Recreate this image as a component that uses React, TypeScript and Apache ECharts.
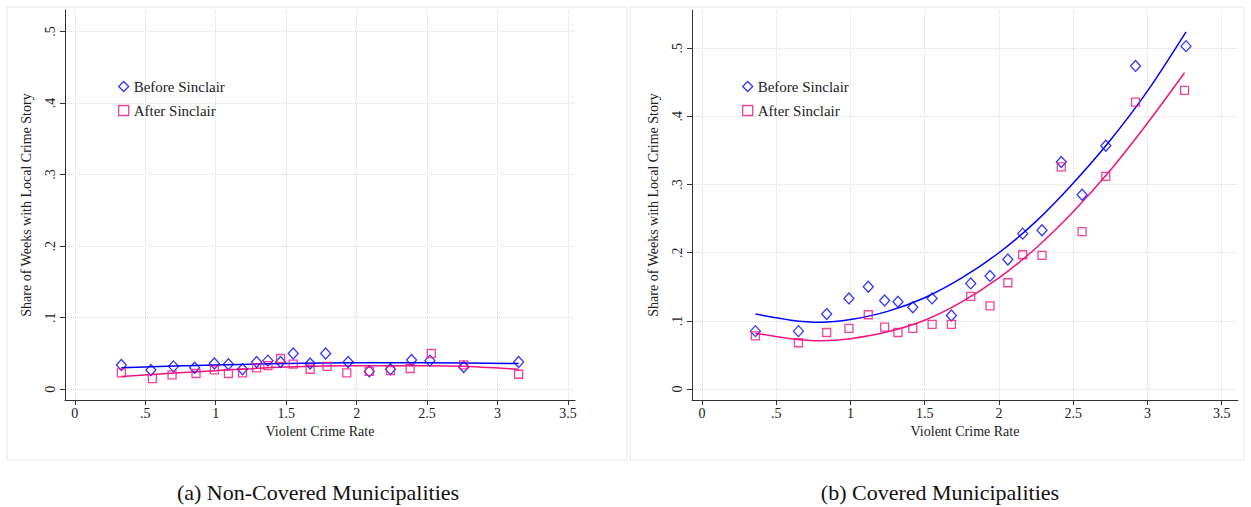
import { useEffect, useRef } from 'react'
import * as echarts from 'echarts'

// Panel (a): non-covered
const aBeforeX = [0.33, 0.54, 0.7, 0.85, 0.99, 1.09, 1.19, 1.29, 1.37, 1.46, 1.55, 1.67, 1.78, 1.94, 2.09, 2.24, 2.39, 2.52, 2.76, 3.15]
const aBeforeY = [0.034, 0.027, 0.032, 0.03, 0.036, 0.035, 0.028, 0.038, 0.04, 0.038, 0.05, 0.036, 0.05, 0.038, 0.025, 0.028, 0.041, 0.04, 0.031, 0.038]
const aAfterX = [0.33, 0.55, 0.69, 0.86, 0.99, 1.09, 1.19, 1.29, 1.37, 1.46, 1.55, 1.67, 1.79, 1.93, 2.09, 2.24, 2.38, 2.53, 2.76, 3.15]
const aAfterY = [0.023, 0.015, 0.02, 0.022, 0.027, 0.022, 0.023, 0.03, 0.033, 0.043, 0.035, 0.028, 0.032, 0.023, 0.025, 0.026, 0.029, 0.05, 0.034, 0.021]
const aFitBefore = [[0.33, 0.03], [1.0, 0.034], [1.5, 0.036], [2.0, 0.037], [2.5, 0.037], [3.15, 0.036]]
const aFitAfter = [[0.33, 0.018], [1.0, 0.026], [1.5, 0.031], [2.0, 0.033], [2.5, 0.033], [2.75, 0.032], [3.15, 0.028]]

// Panel (b): covered
const bBeforeX = [0.36, 0.65, 0.84, 0.99, 1.12, 1.23, 1.32, 1.42, 1.55, 1.68, 1.81, 1.94, 2.06, 2.16, 2.29, 2.42, 2.56, 2.72, 2.92, 3.26]
const bBeforeY = [0.085, 0.085, 0.11, 0.133, 0.15, 0.13, 0.128, 0.12, 0.133, 0.108, 0.155, 0.166, 0.19, 0.228, 0.233, 0.333, 0.285, 0.357, 0.474, 0.503]
const bAfterX = [0.36, 0.65, 0.84, 0.99, 1.12, 1.23, 1.32, 1.42, 1.55, 1.68, 1.81, 1.94, 2.06, 2.16, 2.29, 2.42, 2.56, 2.72, 2.92, 3.25]
const bAfterY = [0.078, 0.068, 0.083, 0.089, 0.109, 0.091, 0.083, 0.089, 0.095, 0.095, 0.136, 0.122, 0.156, 0.197, 0.196, 0.326, 0.231, 0.312, 0.421, 0.438]
const bFitBefore = [[0.36, 0.11], [0.6, 0.101], [0.8, 0.098], [1.0, 0.102], [1.25, 0.114], [1.5, 0.134], [1.75, 0.163], [2.0, 0.2], [2.25, 0.246], [2.5, 0.302], [2.75, 0.365], [3.0, 0.437], [3.26, 0.524]]
const bFitAfter = [[0.36, 0.082], [0.6, 0.074], [0.8, 0.071], [1.0, 0.074], [1.25, 0.084], [1.5, 0.101], [1.75, 0.128], [2.0, 0.163], [2.25, 0.207], [2.5, 0.26], [2.75, 0.321], [3.0, 0.39], [3.25, 0.464]]

const xTicks = [0, 0.5, 1, 1.5, 2, 2.5, 3, 3.5]
const yTicks = [0, 0.1, 0.2, 0.3, 0.4, 0.5]
const captions = ['(a) Non-Covered Municipalities', '(b) Covered Municipalities']

const BLUE = '#0000ff'
const PINK = '#f0147f'
const FONT = 'Liberation Serif'

const fmt = (v: number) => (v === 0 ? '0' : String(v).replace(/^0/, ''))
const zip = (xs: number[], ys: number[]) => xs.map((x, i) => [x, ys[i]])

export default function App() {
  const ref = useRef<HTMLDivElement>(null)

  useEffect(() => {
    if (!ref.current) return
    const chart = echarts.init(ref.current, undefined, { renderer: 'svg' })

    const xAxis = (gridIndex: number, min: number, max: number) => ({
      type: 'value' as const,
      gridIndex,
      min,
      max,
      name: 'Violent Crime Rate',
      nameLocation: 'middle' as const,
      nameGap: 24,
      nameTextStyle: { fontFamily: FONT, fontSize: 14, color: '#222' },
      axisLine: { onZero: false, lineStyle: { color: '#333' } },
      axisTick: { customValues: xTicks, length: 5, lineStyle: { color: '#333' } },
      axisLabel: { customValues: xTicks, formatter: fmt, fontFamily: FONT, fontSize: 14, color: '#222', margin: 6 },
      splitLine: { show: true, lineStyle: { color: '#ddd', type: 'dotted' } },
    })
    const yAxis = (gridIndex: number, min: number, max: number) => ({
      type: 'value' as const,
      gridIndex,
      min,
      max,
      name: 'Share of Weeks with Local Crime Story',
      nameLocation: 'middle' as const,
      nameGap: 32,
      nameTextStyle: { fontFamily: FONT, fontSize: 14, color: '#222' },
      axisLine: { onZero: false, lineStyle: { color: '#333' } },
      axisTick: { customValues: yTicks, length: 5, lineStyle: { color: '#333' } },
      axisLabel: { customValues: yTicks, formatter: fmt, rotate: 90, fontFamily: FONT, fontSize: 14, color: '#222', margin: 8 },
      splitLine: { show: true, lineStyle: { color: '#ddd', type: 'dotted' } },
    })

    const scatter = (name: string, data: number[][], i: number, diamond: boolean) => ({
      name,
      type: 'scatter' as const,
      xAxisIndex: i,
      yAxisIndex: i,
      data,
      symbol: diamond ? 'diamond' : 'rect',
      symbolSize: diamond ? [10, 11] : 8,
      itemStyle: { color: 'transparent', borderColor: diamond ? BLUE : PINK, borderWidth: 1.3 },
      z: 3,
    })
    const fit = (data: number[][], i: number, color: string) => ({
      type: 'line' as const,
      xAxisIndex: i,
      yAxisIndex: i,
      data,
      smooth: 0.3,
      symbol: 'none',
      lineStyle: { color, width: 1.5 },
      z: 2,
    })

    const legend = (left: number) => ({
      left,
      top: 74,
      orient: 'vertical' as const,
      itemGap: 9,
      itemWidth: 10,
      itemHeight: 10,
      textStyle: { fontFamily: FONT, fontSize: 15, color: '#222' },
      data: [
        { name: 'Before Sinclair', icon: 'diamond', itemStyle: { color: 'transparent', borderColor: BLUE, borderWidth: 1.3 } },
        { name: 'After Sinclair', icon: 'rect', itemStyle: { color: 'transparent', borderColor: PINK, borderWidth: 1.3 } },
      ],
    })

    chart.setOption({
      animation: false,
      backgroundColor: '#fff',
      grid: [
        { left: 65, right: 676, top: 10, bottom: 107 },
        { left: 692, right: 13, top: 10, bottom: 107 },
      ],
      xAxis: [xAxis(0, -0.07, 3.55), xAxis(1, -0.067, 3.61)],
      yAxis: [yAxis(0, -0.015, 0.53), yAxis(1, -0.016, 0.556)],
      legend: [legend(113), legend(737)],
      series: [
        fit(aFitBefore, 0, BLUE),
        fit(aFitAfter, 0, PINK),
        scatter('Before Sinclair', zip(aBeforeX, aBeforeY), 0, true),
        scatter('After Sinclair', zip(aAfterX, aAfterY), 0, false),
        fit(bFitBefore, 1, BLUE),
        fit(bFitAfter, 1, PINK),
        scatter('Before Sinclair', zip(bBeforeX, bBeforeY), 1, true),
        scatter('After Sinclair', zip(bAfterX, bAfterY), 1, false),
      ],
      graphic: [
        { type: 'rect', shape: { x: 7, y: 7, width: 620, height: 453 }, style: { fill: 'none', stroke: '#e6e6e6' }, silent: true },
        { type: 'rect', shape: { x: 630, y: 7, width: 614, height: 453 }, style: { fill: 'none', stroke: '#e6e6e6' }, silent: true },
        { type: 'text', x: 318, y: 492, style: { text: captions[0], fontFamily: FONT, fontSize: 22, fill: '#111', align: 'center', verticalAlign: 'middle' } },
        { type: 'text', x: 940, y: 492, style: { text: captions[1], fontFamily: FONT, fontSize: 22, fill: '#111', align: 'center', verticalAlign: 'middle' } },
      ],
    })

    return () => chart.dispose()
  }, [])

  return <div ref={ref} style={{ position: 'fixed', left: 0, top: 0, width: 1251, height: 507 }} />
}
